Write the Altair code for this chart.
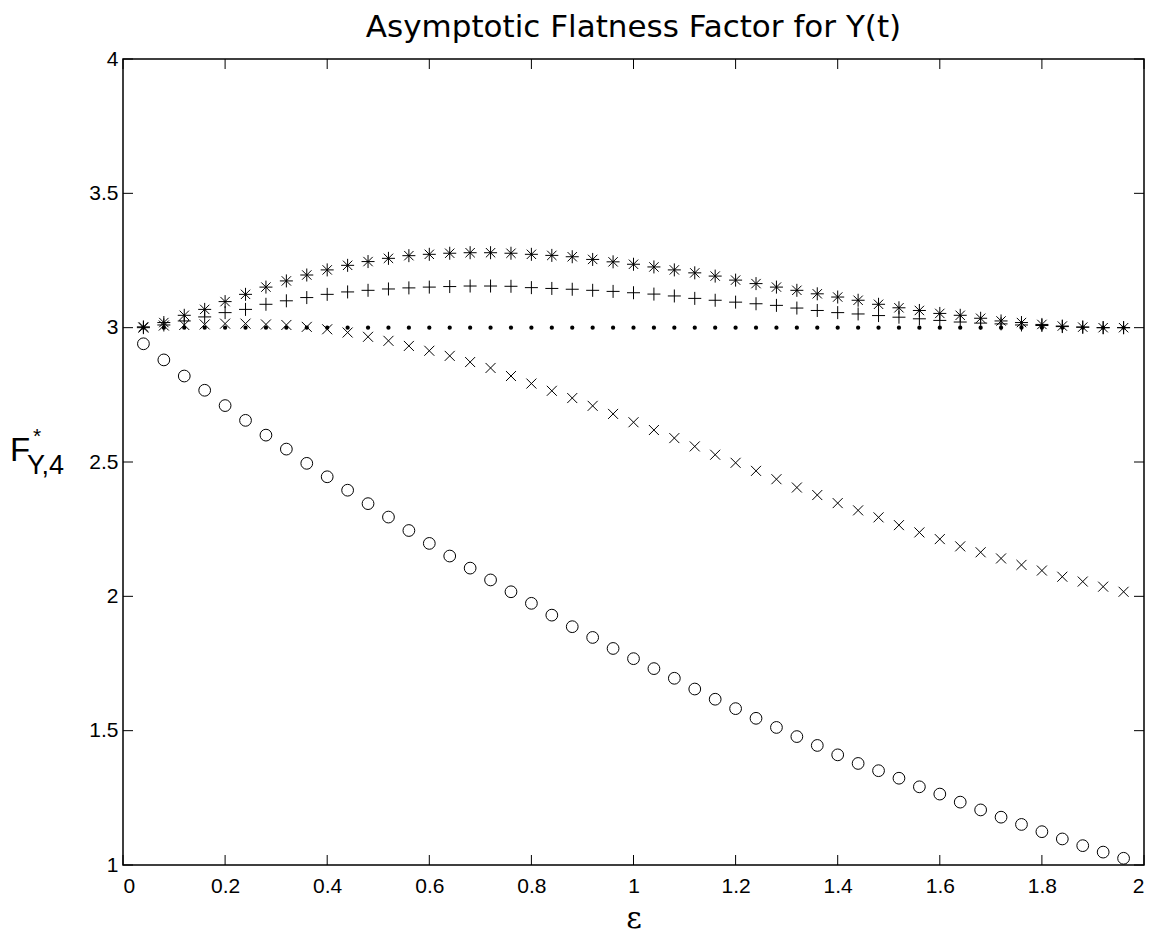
import altair as alt
import pandas as pd

eps = [0.04, 0.08, 0.12, 0.16, 0.20, 0.24, 0.28, 0.32, 0.36, 0.40,
       0.44, 0.48, 0.52, 0.56, 0.60, 0.64, 0.68, 0.72, 0.76, 0.80,
       0.84, 0.88, 0.92, 0.96, 1.00, 1.04, 1.08, 1.12, 1.16, 1.20,
       1.24, 1.28, 1.32, 1.36, 1.40, 1.44, 1.48, 1.52, 1.56, 1.60,
       1.64, 1.68, 1.72, 1.76, 1.80, 1.84, 1.88, 1.92, 1.96]

circles = [2.94, 2.88, 2.82, 2.767, 2.71, 2.655, 2.60, 2.548, 2.495, 2.445,
           2.395, 2.345, 2.295, 2.245, 2.197, 2.15, 2.105, 2.061, 2.017, 1.974,
           1.930, 1.887, 1.847, 1.806, 1.768, 1.731, 1.695, 1.655, 1.617, 1.582,
           1.546, 1.512, 1.478, 1.445, 1.41, 1.378, 1.351, 1.323, 1.291, 1.264,
           1.234, 1.205, 1.178, 1.151, 1.124, 1.097, 1.072, 1.048, 1.025]

xmarks = [3.0, 3.008, 3.01, 3.012, 3.015, 3.015, 3.012, 3.01, 3.003, 2.994,
          2.982, 2.966, 2.951, 2.932, 2.914, 2.895, 2.872, 2.85, 2.82, 2.792,
          2.765, 2.738, 2.709, 2.679, 2.648, 2.619, 2.589, 2.558, 2.527, 2.497,
          2.467, 2.436, 2.405, 2.377, 2.347, 2.320, 2.294, 2.265, 2.238, 2.213,
          2.186, 2.164, 2.141, 2.117, 2.096, 2.073, 2.055, 2.036, 2.017]

dots = [3.0] * 49

pluses = [3.0, 3.01, 3.025, 3.04, 3.056, 3.068, 3.087, 3.10, 3.112, 3.124,
          3.133, 3.139, 3.144, 3.148, 3.151, 3.153, 3.155, 3.155, 3.154, 3.149,
          3.146, 3.143, 3.139, 3.135, 3.13, 3.125, 3.118, 3.109, 3.102, 3.095,
          3.089, 3.083, 3.073, 3.064, 3.056, 3.051, 3.045, 3.039, 3.033, 3.027,
          3.021, 3.017, 3.014, 3.01, 3.008, 3.004, 3.002, 3.0, 3.0]

stars = [3.003, 3.019, 3.046, 3.068, 3.097, 3.124, 3.151, 3.174, 3.196, 3.215,
         3.232, 3.246, 3.258, 3.268, 3.273, 3.277, 3.279, 3.279, 3.277, 3.273,
         3.269, 3.264, 3.254, 3.245, 3.236, 3.226, 3.215, 3.204, 3.192, 3.177,
         3.164, 3.151, 3.139, 3.126, 3.114, 3.102, 3.087, 3.074, 3.064, 3.053,
         3.046, 3.035, 3.025, 3.019, 3.012, 3.006, 3.002, 3.0, 3.0]

x_ticks = [0, 0.2, 0.4, 0.6, 0.8, 1.0, 1.2, 1.4, 1.6, 1.8, 2.0]
y_ticks = [1, 1.5, 2, 2.5, 3, 3.5, 4]

title_text = "Asymptotic Flatness Factor for Y(t)"

W, H = 1021, 806
FONT = "Liberation Sans"

xs = alt.Scale(domain=[0, 2], nice=False, zero=False)
ys = alt.Scale(domain=[1, 4], nice=False, zero=False)

x_axis = alt.Axis(values=x_ticks, format="~g", ticks=False, domain=False, grid=False,
                  labelFont=FONT, labelFontSize=21, labelColor="black", labelPadding=10,
                  title="ε", titleFont="DejaVu Serif", titleFontSize=30, titleFontWeight="normal",
                  titleColor="black", titlePadding=7)
y_axis = alt.Axis(values=y_ticks, format="~g", ticks=False, domain=False, grid=False,
                  labelFont=FONT, labelFontSize=21, labelColor="black", labelPadding=5,
                  title=None)

def series(vals, name):
    return pd.DataFrame({"eps": eps, "F": vals, "series": name})

def pts(df, **kw):
    return alt.Chart(df).mark_point(color="black", opacity=1, **kw).encode(
        x=alt.X("eps:Q", scale=xs, axis=x_axis),
        y=alt.Y("F:Q", scale=ys, axis=y_axis),
    )

l_circ = pts(series(circles, "o"), shape="circle", filled=False, size=138, strokeWidth=1)
l_x = pts(series(xmarks, "x"), shape="M-1,-1L1,1M-1,1L1,-1", filled=False, size=100, strokeWidth=1)
l_dot = pts(series(dots, "."), shape="circle", filled=True, size=18, strokeWidth=0)
l_plus = pts(series(pluses, "+"), shape="M0,-1L0,1M-1,0L1,0", filled=False, size=169, strokeWidth=1)
l_star = pts(series(stars, "*"), shape="M0,-1L0,1M-1,0L1,0M-0.72,-0.72L0.72,0.72M-0.72,0.72L0.72,-0.72",
             filled=False, size=169, strokeWidth=1)

xt = pd.DataFrame({"v": x_ticks})
yt = pd.DataFrame({"v": y_ticks})
TL = 10
tick_b = alt.Chart(xt).mark_rule(color="black", strokeWidth=1).encode(
    x=alt.X("v:Q", scale=xs), y=alt.value(H), y2=alt.value(H - TL))
tick_t = alt.Chart(xt).mark_rule(color="black", strokeWidth=1).encode(
    x=alt.X("v:Q", scale=xs), y=alt.value(0), y2=alt.value(TL))
tick_l = alt.Chart(yt).mark_rule(color="black", strokeWidth=1).encode(
    y=alt.Y("v:Q", scale=ys), x=alt.value(0), x2=alt.value(TL))
tick_r = alt.Chart(yt).mark_rule(color="black", strokeWidth=1).encode(
    y=alt.Y("v:Q", scale=ys), x=alt.value(W), x2=alt.value(W - TL))

lab = pd.DataFrame({"t": ["F"]})
title_mark = alt.Chart(lab).mark_text(text=title_text, font="DejaVu Sans", fontSize=31, align="center",
                                      baseline="alphabetic", color="black").encode(
    x=alt.value(W / 2), y=alt.value(37 - 59))
ylab_F = alt.Chart(lab).mark_text(text="F", font=FONT, fontSize=33, align="left",
                                  baseline="alphabetic", color="black").encode(
    x=alt.value(-113), y=alt.value(461 - 59))
ylab_star = alt.Chart(lab).mark_text(text="*", font=FONT, fontSize=21, align="left",
                                     baseline="alphabetic", color="black").encode(
    x=alt.value(-90), y=alt.value(443 - 59))
ylab_sub = alt.Chart(lab).mark_text(text="Y,4", font=FONT, fontSize=27, align="left",
                                    baseline="alphabetic", color="black").encode(
    x=alt.value(-96), y=alt.value(474 - 59))

chart = alt.layer(
    tick_b, tick_t, tick_l, tick_r,
    l_dot, l_x, l_circ, l_plus, l_star,
    title_mark, ylab_F, ylab_star, ylab_sub,
).properties(
    width=W, height=H,
    autosize=alt.AutoSizeParams(type="none"),
    padding={"left": 123, "top": 59, "right": 14, "bottom": 69},
    background="white",
).configure_view(stroke="black", strokeWidth=1.5)

chart.save("out.html", embed_options={"renderer": "svg", "actions": False})
